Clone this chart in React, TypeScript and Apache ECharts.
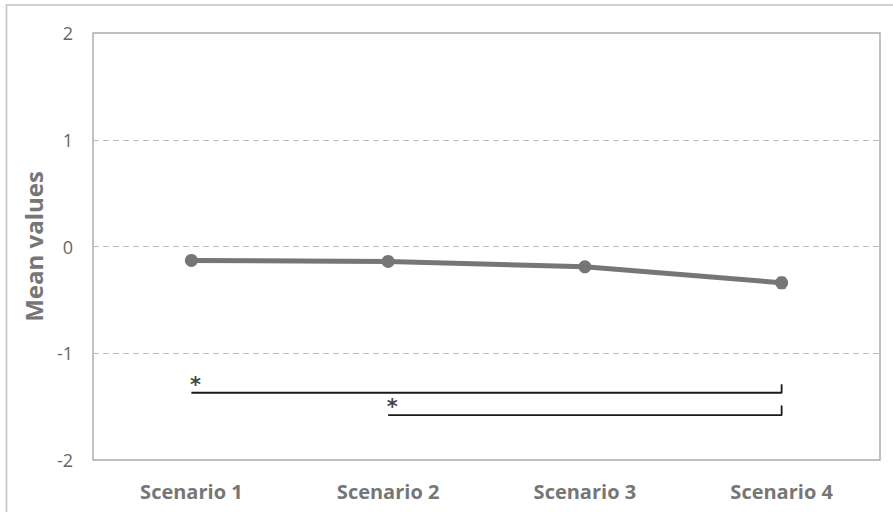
import React, { useEffect, useRef } from "react";
import * as echarts from "echarts";

const categories = ["Scenario 1", "Scenario 2", "Scenario 3", "Scenario 4"];
const meanValues = [-0.13, -0.14, -0.19, -0.34];
const errorMargins = [0.03, 0.03, 0.04, 0.05];
const yTicks = [-2, -1, 0, 1, 2];
const sigBracket1 = [[0, -1.37], [3, -1.37], [3, -1.29]];
const sigBracket2 = [[1, -1.58], [3, -1.58], [3, -1.49]];
const sigStars = [[0, -1.37], [1, -1.58]];

export default function App() {
  const ref = useRef<HTMLDivElement>(null);
  useEffect(() => {
    document.body.style.margin = "0";
    const chart = echarts.init(ref.current!, null, { renderer: "svg" });
    const bracket = (data: number[][]) => ({
      type: "line",
      data,
      symbol: "none",
      lineStyle: { color: "#1a1a1a", width: 1.8 },
      z: 3,
      silent: true,
    });
    chart.setOption({
      animation: false,
      grid: { left: 93, top: 33, right: 13, bottom: 52, show: true, borderColor: "#adadad", borderWidth: 1.5 },
      graphic: [
        { type: "rect", shape: { x: 6.5, y: 5, width: 920, height: 540 }, style: { fill: "none", stroke: "#c4c4c4", lineWidth: 1.6 }, silent: true, z: -1 },
      ],
      xAxis: {
        type: "category",
        data: categories,
        boundaryGap: true,
        axisLine: { show: false },
        axisTick: { show: false },
        axisLabel: { color: "#767676", fontSize: 20, fontWeight: "bold", fontFamily: "Open Sans", margin: 21 },
      },
      yAxis: {
        type: "value",
        min: yTicks[0],
        max: yTicks[yTicks.length - 1],
        interval: 1,
        name: "Mean values",
        nameLocation: "middle",
        nameGap: 48,
        nameTextStyle: { color: "#767676", fontSize: 24, fontWeight: "bold", fontFamily: "Open Sans" },
        axisLine: { show: false },
        axisTick: { show: false },
        axisLabel: { color: "#666666", fontSize: 18, fontFamily: "Open Sans", margin: 20 },
        splitLine: { show: true, lineStyle: { color: "#bdbdbd", type: [6, 4], width: 1.2 } },
      },
      series: [
        {
          type: "custom",
          data: meanValues.map((v, i) => [i, v - errorMargins[i], v + errorMargins[i]]),
          z: 3,
          silent: true,
          renderItem: (params: any, api: any) => {
            const lo = api.coord([api.value(0), api.value(1)]);
            const hi = api.coord([api.value(0), api.value(2)]);
            const style = { stroke: "#767676", lineWidth: 1.5 };
            return {
              type: "group",
              children: [
                { type: "line", shape: { x1: lo[0], y1: lo[1], x2: hi[0], y2: hi[1] }, style },
                { type: "line", shape: { x1: lo[0] - 4, y1: lo[1], x2: lo[0] + 4, y2: lo[1] }, style },
                { type: "line", shape: { x1: hi[0] - 4, y1: hi[1], x2: hi[0] + 4, y2: hi[1] }, style },
              ],
            };
          },
        },
        {
          type: "line",
          data: meanValues,
          symbol: "circle",
          symbolSize: 13,
          itemStyle: { color: "#767676" },
          lineStyle: { color: "#767676", width: 5 },
          z: 4,
        },
        bracket(sigBracket1),
        bracket(sigBracket2),
        {
          type: "scatter",
          data: sigStars,
          symbolSize: 1,
          itemStyle: { color: "rgba(0,0,0,0)" },
          silent: true,
          z: 5,
          label: {
            show: true,
            formatter: "*",
            position: "top",
            distance: 0,
            offset: [4, 3],
            color: "#111",
            fontSize: 21,
            fontWeight: "bold",
            fontFamily: "DejaVu Sans",
          },
        },
      ],
    });
    return () => chart.dispose();
  }, []);
  return <div ref={ref} style={{ width: 893, height: 512 }} />;
}
